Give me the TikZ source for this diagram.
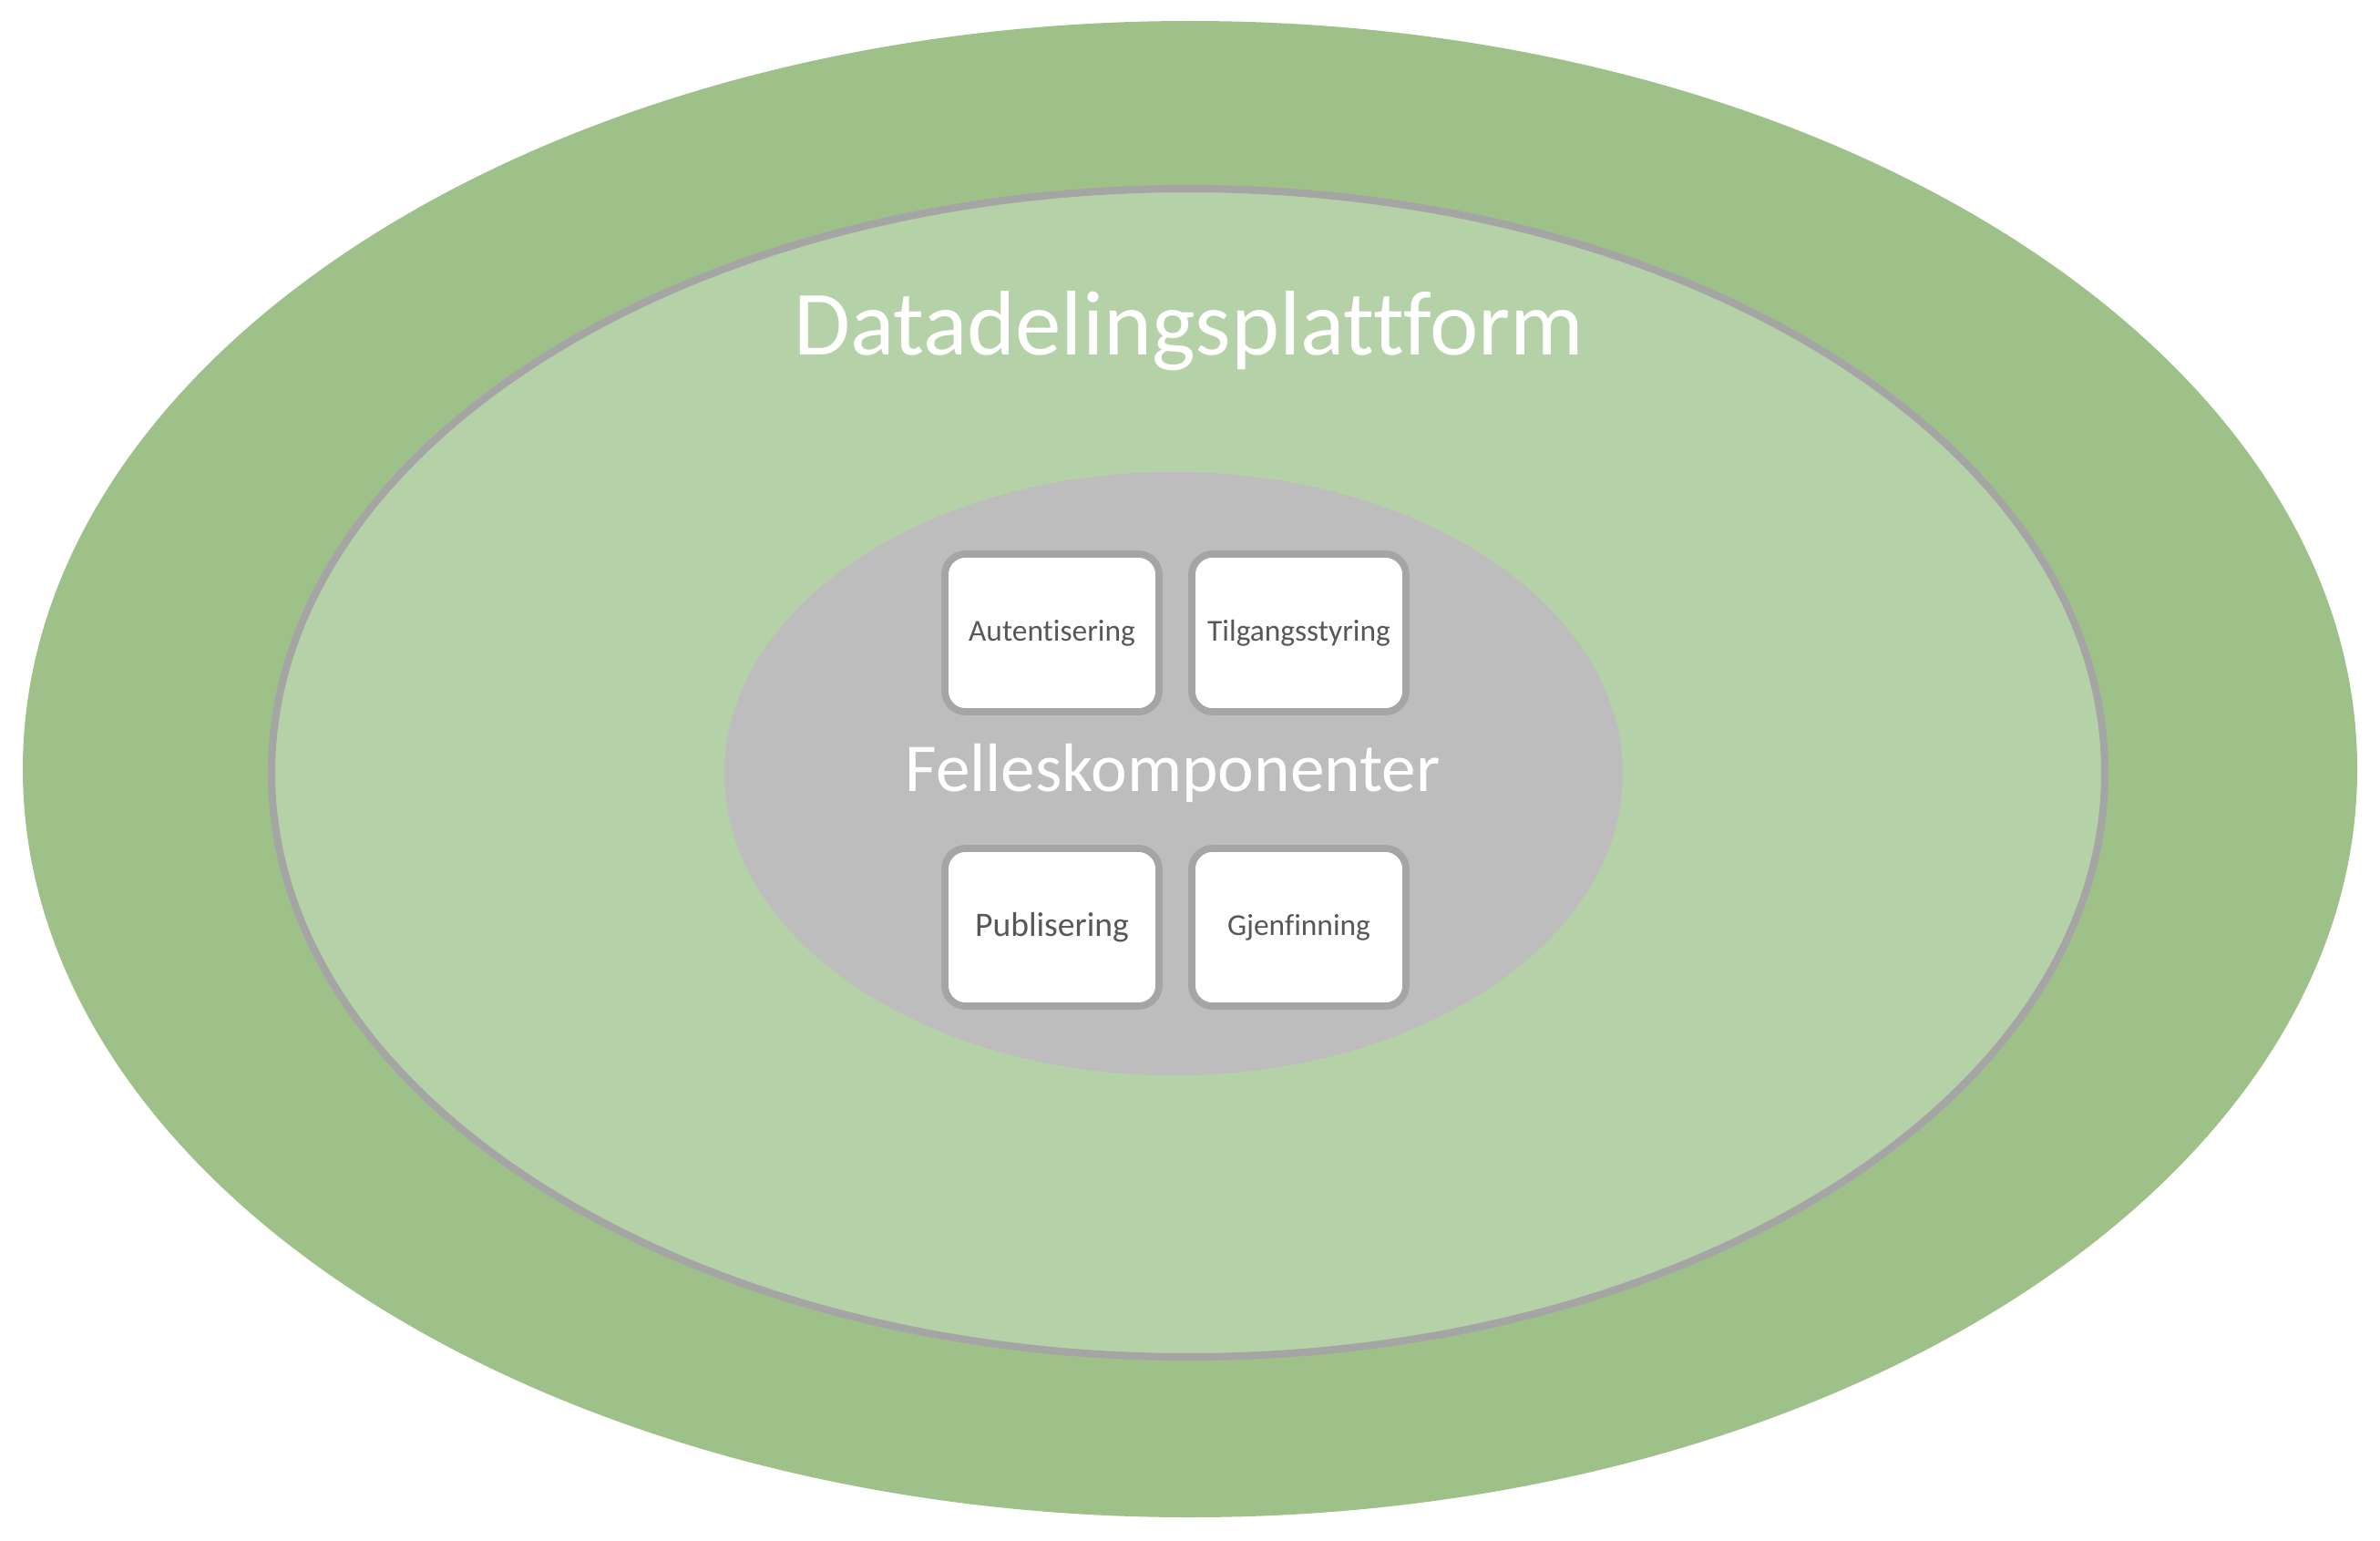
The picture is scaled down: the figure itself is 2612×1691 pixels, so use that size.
\documentclass[tikz,border=0pt]{standalone}
\usepackage{fontspec}
\setmainfont[Ligatures={NoCommon,NoRare,NoDiscretionary}]{Carlito}
\definecolor{outergreen}{HTML}{9DC188}
\definecolor{innergreen}{HTML}{B5D1A8}
\definecolor{coregray}{HTML}{BDBDBD}
\definecolor{linegray}{HTML}{A5A5A5}
\definecolor{textgray}{HTML}{575757}
\tikzset{
  compbox/.style={draw=linegray, line width=2.2pt, fill=white, rounded corners=6.5pt,
    minimum width=2.35cm, minimum height=1.73cm, inner sep=0pt, text=textgray,
    font=\fontsize{9.5pt}{11pt}\selectfont},
}
\begin{document}
\begin{tikzpicture}[x=0.01cm,y=-0.01cm]
\useasboundingbox (0,0) rectangle (2612,1691);
\fill[outergreen] (1306,844) ellipse [x radius=1281, y radius=821];
\draw[fill=innergreen, draw=linegray, line width=2.3pt] (1304,848) ellipse [x radius=1006, y radius=641];
\fill[coregray] (1288,849) ellipse [x radius=493, y radius=331];
\node[text=white, font=\fontsize{28.7pt}{32pt}\selectfont, anchor=base] (title) at (1305,389) {Datadelingsplattform};
\node[text=white, font=\fontsize{21.4pt}{24pt}\selectfont, anchor=base] (felles) at (1287,868) {Felleskomponenter};
\node[compbox] (aut) at (1154.5,694.5) {Autentisering};
\node[compbox] (til) at (1425.5,694.5) {Tilgangsstyring};
\node[compbox, font=\fontsize{10.7pt}{12pt}\selectfont] (pub) at (1154.5,1017.5) {Publisering};
\node[compbox] (gje) at (1425.5,1017.5) {Gjenfinning};
\end{tikzpicture}
\end{document}
